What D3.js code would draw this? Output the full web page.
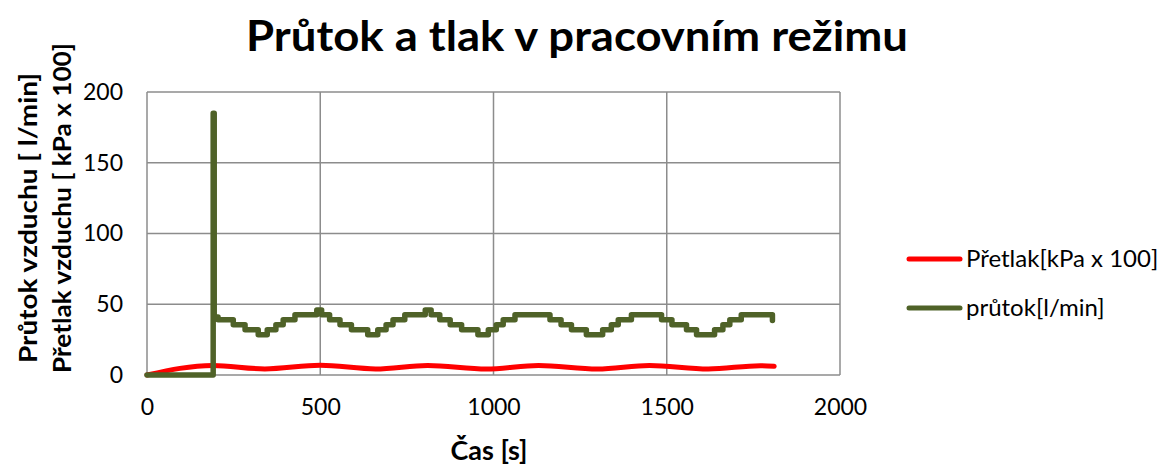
<!DOCTYPE html>
<html>
<head>
<meta charset="utf-8">
<script src="https://cdn.jsdelivr.net/npm/d3@7"></script>
<style>
  body { margin: 0; background: #fff; }
  text { font-family: Lato, "Noto Sans", sans-serif; fill: #000; }
</style>
</head>
<body>
<script>
// chart data
var title = 'Průtok a tlak v pracovním režimu';
var xTitle = 'Čas [s]';
var yTitles = ['Průtok vzduchu [ l/min]', 'Přetlak vzduchu [ kPa x 100]'];
var seriesNames = ['Přetlak[kPa x 100]', 'průtok[l/min]'];

var xTicks = [0, 500, 1000, 1500, 2000];
var yTicks = [0, 50, 100, 150, 200];

// pressure (kPa x 100)
var pressTime  = [0, 190, 340, 500, 660, 810, 980, 1130, 1300, 1450, 1620, 1770, 1810];
var pressValue = [0, 6.8, 4.3, 6.9, 4.3, 6.8, 4.3, 6.8,  4.3,  6.8,  4.3,  6.6,  6.2];

// flow (l/min), stepwise readings
var flowTime  = [0, 190, 191, 194, 205, 249, 283, 321, 347, 372, 393, 427, 490, 504,
                 527, 557, 590, 637, 666, 690, 710, 744, 803, 820,
                 845, 875, 908, 955, 985, 1008, 1028, 1062,
                 1163, 1195, 1225, 1268, 1315, 1340, 1360, 1398,
                 1485, 1515, 1557, 1586, 1638, 1662, 1682, 1715, 1805];
var flowValue = [0, 0, 185, 41, 39, 35.5, 32, 28.5, 32, 35.5, 39, 42.5, 46, 42.5,
                 39, 35.5, 32, 28.5, 32, 35.5, 39, 42.5, 46, 42.5,
                 39, 35.5, 32, 28.5, 32, 35.5, 39, 42.5,
                 39, 35.5, 32, 28.5, 32, 35.5, 39, 42.5,
                 39, 35.5, 32, 28.5, 32, 35.5, 39, 42.5, 38.5];

var width = 1163;
var height = 468;

var svg = d3.select('body').append('svg')
            .attr('width', width)
            .attr('height', height);

var x = d3.scaleLinear().domain([0, 2000]).range([147, 840]);
var y = d3.scaleLinear().domain([0, 200]).range([375, 92]);

var gridColor = '#8c8c8c';

// grid
svg.append('g').selectAll('line').data(yTicks).enter().append('line')
   .attr('x1', x(0)).attr('x2', x(2000))
   .attr('y1', function(d) { return y(d); })
   .attr('y2', function(d) { return y(d); })
   .attr('stroke', gridColor).attr('stroke-width', 1.5);

svg.append('g').selectAll('line').data(xTicks).enter().append('line')
   .attr('y1', y(0)).attr('y2', y(200))
   .attr('x1', function(d) { return x(d); })
   .attr('x2', function(d) { return x(d); })
   .attr('stroke', gridColor).attr('stroke-width', 1.5);

// axes (labels only, lines are the grid)
var xAxis = svg.append('g')
   .attr('transform', 'translate(0,' + y(0) + ')')
   .call(d3.axisBottom(x).tickValues(xTicks).tickFormat(d3.format('d'))
           .tickSize(0).tickPadding(24));
var yAxis = svg.append('g')
   .attr('transform', 'translate(' + x(0) + ',0)')
   .call(d3.axisLeft(y).tickValues(yTicks).tickFormat(d3.format('d'))
           .tickSize(0).tickPadding(24));
[xAxis, yAxis].forEach(function(a) {
  a.select('.domain').remove();
  a.selectAll('text').attr('font-family', 'Lato, "Noto Sans", sans-serif')
   .attr('font-size', 23).attr('fill', '#000');
});

// lines
var pressData = pressTime.map(function(t, i) { return [t, pressValue[i]]; });
var flowData = flowTime.map(function(t, i) { return [t, flowValue[i]]; });

svg.append('path').datum(pressData)
   .attr('fill', 'none').attr('stroke', '#ff0000').attr('stroke-width', 5)
   .attr('stroke-linecap', 'round').attr('stroke-linejoin', 'round')
   .attr('d', d3.line().curve(d3.curveMonotoneX)
                .x(function(d) { return x(d[0]); })
                .y(function(d) { return y(d[1]); }));

svg.append('path').datum(flowData)
   .attr('fill', 'none').attr('stroke', '#4f6228').attr('stroke-width', 5.5)
   .attr('stroke-linecap', 'round').attr('stroke-linejoin', 'round')
   .attr('d', d3.line().curve(d3.curveStepAfter)
                .x(function(d) { return x(d[0]); })
                .y(function(d) { return y(d[1]); }));

// title
svg.append('text').attr('x', 577).attr('y', 51)
   .attr('text-anchor', 'middle').attr('font-size', 42).attr('font-weight', 'bold')
   .attr('textLength', 662).attr('lengthAdjust', 'spacingAndGlyphs')
   .text(title);

svg.append('text').attr('x', 489).attr('y', 460)
   .attr('text-anchor', 'middle').attr('font-size', 27).attr('font-weight', 'bold')
   .text(xTitle);

var yTitlePos = [[28, 218], [62, 208]];
var yTitleLen = [290, 330];
yTitles.forEach(function(t, i) {
  svg.append('text')
     .attr('transform', 'translate(' + yTitlePos[i][0] + ',' + yTitlePos[i][1] + ') rotate(-90)')
     .attr('text-anchor', 'middle').attr('dy', '0.35em')
     .attr('font-size', 25).attr('font-weight', 'bold')
     .attr('textLength', yTitleLen[i]).attr('lengthAdjust', 'spacingAndGlyphs')
     .text(t);
});

// legend
var legendColors = ['#ff0000', '#4f6228'];
var legendY = [259, 308];
var legend = svg.append('g').selectAll('g').data(seriesNames).enter().append('g')
   .attr('transform', function(d, i) { return 'translate(0,' + legendY[i] + ')'; });
legend.append('line').attr('x1', 909).attr('x2', 960)
   .attr('stroke', function(d, i) { return legendColors[i]; })
   .attr('stroke-width', 5).attr('stroke-linecap', 'round');
legend.append('text').attr('x', 966).attr('dy', '0.35em')
   .attr('font-size', 24)
   .text(function(d) { return d; });
</script>
</body>
</html>
